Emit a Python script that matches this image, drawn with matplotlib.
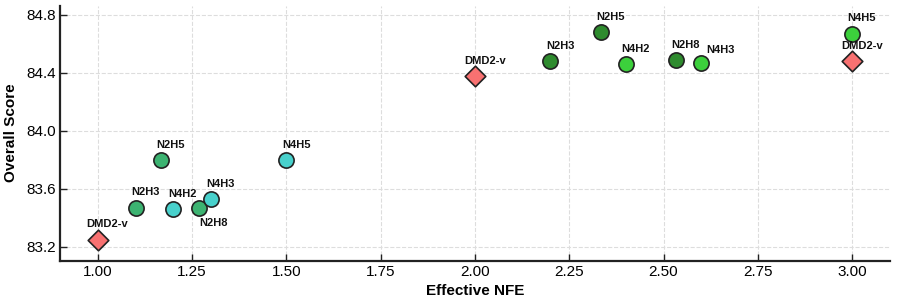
import numpy as np
import matplotlib
matplotlib.use("Agg")
import matplotlib.pyplot as plt

plt.rcParams["font.family"] = ["Liberation Sans", "DejaVu Sans"]

# low-NFE group (1.0 - 1.5)
low_n2_names = ["N2H3", "N2H5", "N2H8"]
low_n2_x = [1.10, 1.167, 1.267]
low_n2_y = [83.47, 83.80, 83.47]

low_n4_names = ["N4H2", "N4H3", "N4H5"]
low_n4_x = [1.20, 1.30, 1.50]
low_n4_y = [83.46, 83.53, 83.80]

# high-NFE group (2.0 - 3.0)
high_n2_names = ["N2H3", "N2H5", "N2H8"]
high_n2_x = [2.20, 2.333, 2.533]
high_n2_y = [84.48, 84.68, 84.49]

high_n4_names = ["N4H2", "N4H3", "N4H5"]
high_n4_x = [2.40, 2.60, 3.00]
high_n4_y = [84.46, 84.47, 84.67]

dmd_names = ["DMD2-v", "DMD2-v", "DMD2-v"]
dmd_x = [1.0, 2.0, 3.0]
dmd_y = [83.25, 84.38, 84.48]

x_ticks = [1.00, 1.25, 1.50, 1.75, 2.00, 2.25, 2.50, 2.75, 3.00]
y_ticks = [83.2, 83.6, 84.0, 84.4, 84.8]

fig = plt.figure(figsize=(8.97, 3.06), dpi=100)
ax = fig.add_axes([0.067, 0.148, 0.925, 0.834])

groups = [
    (low_n2_names, low_n2_x, low_n2_y, "#3cb371", "o"),
    (low_n4_names, low_n4_x, low_n4_y, "#48d1cc", "o"),
    (high_n2_names, high_n2_x, high_n2_y, "#2e8b2e", "o"),
    (high_n4_names, high_n4_x, high_n4_y, "#3cd03c", "o"),
    (dmd_names, dmd_x, dmd_y, "#f87171", "D"),
]

# label offsets in points (mostly up-right)
special = {("N2H8", 1.267): (11, -11), ("N4H3", 2.60): (14, 9)}

for names, xs, ys, col, mk in groups:
    s = 120 if mk == "o" else 110
    ax.scatter(xs, ys, s=s, c=col, marker=mk, edgecolors="#222222",
               linewidths=1.2, zorder=3, clip_on=False)
    for n, x, y in zip(names, xs, ys):
        off = special.get((n, x), (7, 11))
        ax.annotate(n, (x, y), xytext=off, textcoords="offset points",
                    ha="center", va="center", fontsize=8, fontweight="bold",
                    color="#111111")

ax.set_xlim(0.9, 3.1)
ax.set_ylim(83.104, 84.865)
ax.set_xticks(x_ticks)
ax.set_yticks(y_ticks)
ax.set_xticklabels(["%.2f" % t for t in x_ticks])
ax.set_yticklabels(["%.1f" % t for t in y_ticks])

ax.grid(True, linestyle="--", color="#dddddd", linewidth=0.8)
ax.set_axisbelow(True)
for side in ["top", "right"]:
    ax.spines[side].set_visible(False)
for side in ["left", "bottom"]:
    ax.spines[side].set_linewidth(1.6)
    ax.spines[side].set_color("#222222")
ax.tick_params(direction="in", length=5, width=1, labelsize=11, pad=3,
               color="#222222")

ax.set_xlabel("Effective NFE", fontsize=11, fontweight="bold", labelpad=4)
ax.set_ylabel("Overall Score", fontsize=11, fontweight="bold", labelpad=6)

fig.savefig("out.png", dpi=100)
